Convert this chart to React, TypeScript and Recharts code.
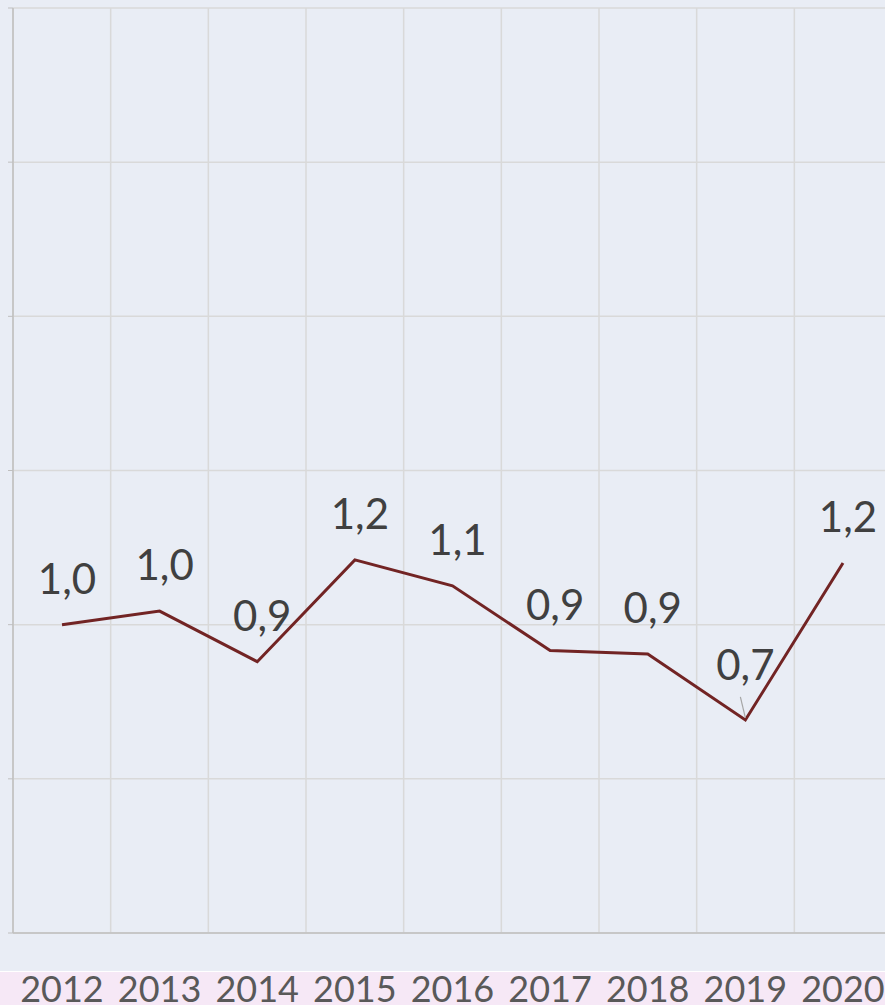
import { LineChart, Line, XAxis, YAxis, CartesianGrid, LabelList } from "recharts";

// valores
const years = ["2012", "2013", "2014", "2015", "2016", "2017", "2018", "2019", "2020"];
const values = [1.0, 1.044, 0.88, 1.21, 1.126, 0.916, 0.905, 0.691, 1.2];
const yTicks = [0, 0.5, 1, 1.5, 2, 2.5, 3];

const data = years.map((year, i) => ({ year, value: values[i] }));

const fmt = (v: number) => v.toFixed(1).replace(".", ",");

const ValueLabel = (props: any) => {
  const { x, y, value, index } = props;
  if (index === 7) {
    // etiqueta con línea guía
    return (
      <g>
        <line x1={x} y1={y - 2} x2={x - 5} y2={y - 23} stroke="#a6a6a6" strokeWidth={1.2} />
        <text x={x} y={y - 40} textAnchor="middle" fill="#404040" fontSize={42} fontFamily="Lato">
          {fmt(value)}
        </text>
      </g>
    );
  }
  return (
    <text x={x + 5} y={y - 31} textAnchor="middle" fill="#404040" fontSize={42} fontFamily="Lato">
      {fmt(value)}
    </text>
  );
};

const YearTick = (props: any) => {
  const { x, y, payload } = props;
  return (
    <text x={x} y={y + 61} textAnchor="middle" fill="#595959" fontSize={36} fontFamily="Lato">
      {payload.value}
    </text>
  );
};

export default function App() {
  return (
    <div
      style={{
        position: "absolute",
        left: 0,
        top: 0,
        width: 885,
        height: 1005,
        overflow: "hidden",
        background: "#e9edf5",
      }}
    >
      <div style={{ position: "absolute", left: 0, top: 971, width: 885, height: 1, background: "#ffffff" }} />
      <div style={{ position: "absolute", left: 0, top: 972, width: 885, height: 33, background: "#f6e8f6" }} />
      <div style={{ position: "absolute", left: 0, top: 0 }}>
        <LineChart width={900} height={1005} data={data} margin={{ top: 8, right: 8, bottom: 0, left: 0 }}>
          <CartesianGrid
            stroke="#d9d9d9"
            strokeWidth={1.5}
            verticalCoordinatesGenerator={({ offset }: any) =>
              years.map((_, i) => offset.left + (i * offset.width) / years.length).concat(offset.left + offset.width)
            }
          />
          <XAxis
            dataKey="year"
            height={72}
            padding={{ left: 49, right: 49 }}
            axisLine={{ stroke: "#bfbfbf", strokeWidth: 1.5 }}
            tickLine={false}
            interval={0}
            tick={<YearTick />}
          />
          <YAxis
            width={13}
            domain={[0, 3]}
            ticks={yTicks}
            tickSize={5}
            tickFormatter={() => ""}
            axisLine={{ stroke: "#bfbfbf", strokeWidth: 1.5 }}
            tickLine={{ stroke: "#bfbfbf" }}
          />
          <Line
            type="linear"
            dataKey="value"
            stroke="#722424"
            strokeWidth={3}
            dot={false}
            isAnimationActive={false}
          >
            <LabelList dataKey="value" content={<ValueLabel />} />
          </Line>
        </LineChart>
      </div>
    </div>
  );
}
